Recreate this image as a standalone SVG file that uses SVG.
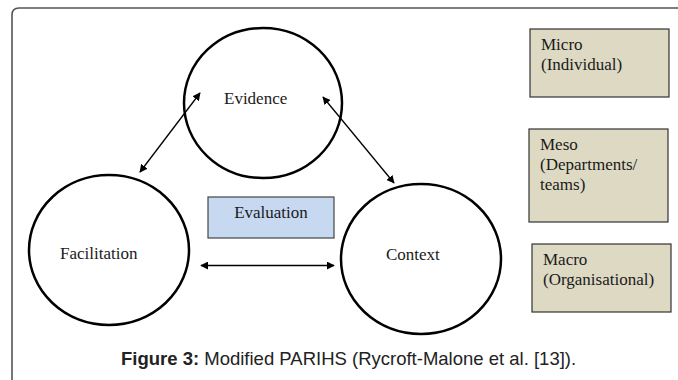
<svg xmlns="http://www.w3.org/2000/svg" width="678" height="380" viewBox="0 0 678 380">
<defs>
<style>
.node{fill:none;stroke:#000;stroke-width:2.5}
.lbl{font-family:"Liberation Serif","Times New Roman",serif;font-size:17px;fill:#1a1a1a}
.lvl{fill:#ddd9c3;stroke:#333;stroke-width:1.2}
.con{stroke:#000;stroke-width:1.3;fill:none;marker-start:url(#ah);marker-end:url(#ah)}
</style>
<marker id="ah" viewBox="0 0 10 10" refX="9" refY="5" markerWidth="8" markerHeight="8" markerUnits="userSpaceOnUse" orient="auto-start-reverse">
<path d="M0,0 L10,5 L0,10 z" fill="#000"/>
</marker>
</defs>
<rect width="678" height="380" fill="#fff"/>
<path d="M12,420 L12,15 Q12,8 19,8 L700,8" fill="none" stroke="#555" stroke-width="1.6"/>
<g id="evidence">
<ellipse class="node" cx="263" cy="103" rx="79" ry="75"/>
<text class="lbl" x="224" y="104">Evidence</text>
</g>
<g id="facilitation">
<ellipse class="node" cx="109" cy="250" rx="80" ry="75"/>
<text class="lbl" x="60" y="259">Facilitation</text>
</g>
<g id="context">
<ellipse class="node" cx="421" cy="259" rx="80" ry="75"/>
<text class="lbl" x="386" y="260">Context</text>
</g>
<g id="evaluation">
<rect x="208" y="197" width="126" height="41" fill="#c6d9f1" stroke="#444" stroke-width="1.2"/>
<text class="lbl" x="271" y="218" text-anchor="middle">Evaluation</text>
</g>
<g id="micro">
<rect class="lvl" x="530" y="29" width="139" height="68"/>
<text class="lbl" x="541" y="50">Micro</text>
<text class="lbl" x="541" y="70">(Individual)</text>
</g>
<g id="meso">
<rect class="lvl" x="529" y="129" width="139" height="93"/>
<text class="lbl" x="540" y="150">Meso</text>
<text class="lbl" x="540" y="170">(Departments/</text>
<text class="lbl" x="540" y="190">teams)</text>
</g>
<g id="macro">
<rect class="lvl" x="532" y="244" width="139" height="68"/>
<text class="lbl" x="543" y="265">Macro</text>
<text class="lbl" x="543" y="285">(Organisational)</text>
</g>
<g id="connectors">
<line class="con" x1="140" y1="172" x2="200" y2="93"/>
<line class="con" x1="323" y1="97" x2="394" y2="183"/>
<line class="con" x1="201" y1="265.5" x2="334" y2="265.5"/>
</g>
<text x="121" y="365" font-family="'Liberation Sans',Arial,sans-serif" font-size="18.5" fill="#222"><tspan font-weight="bold">Figure 3:</tspan> Modified PARIHS (Rycroft-Malone et al. [13]).</text>
</svg>
